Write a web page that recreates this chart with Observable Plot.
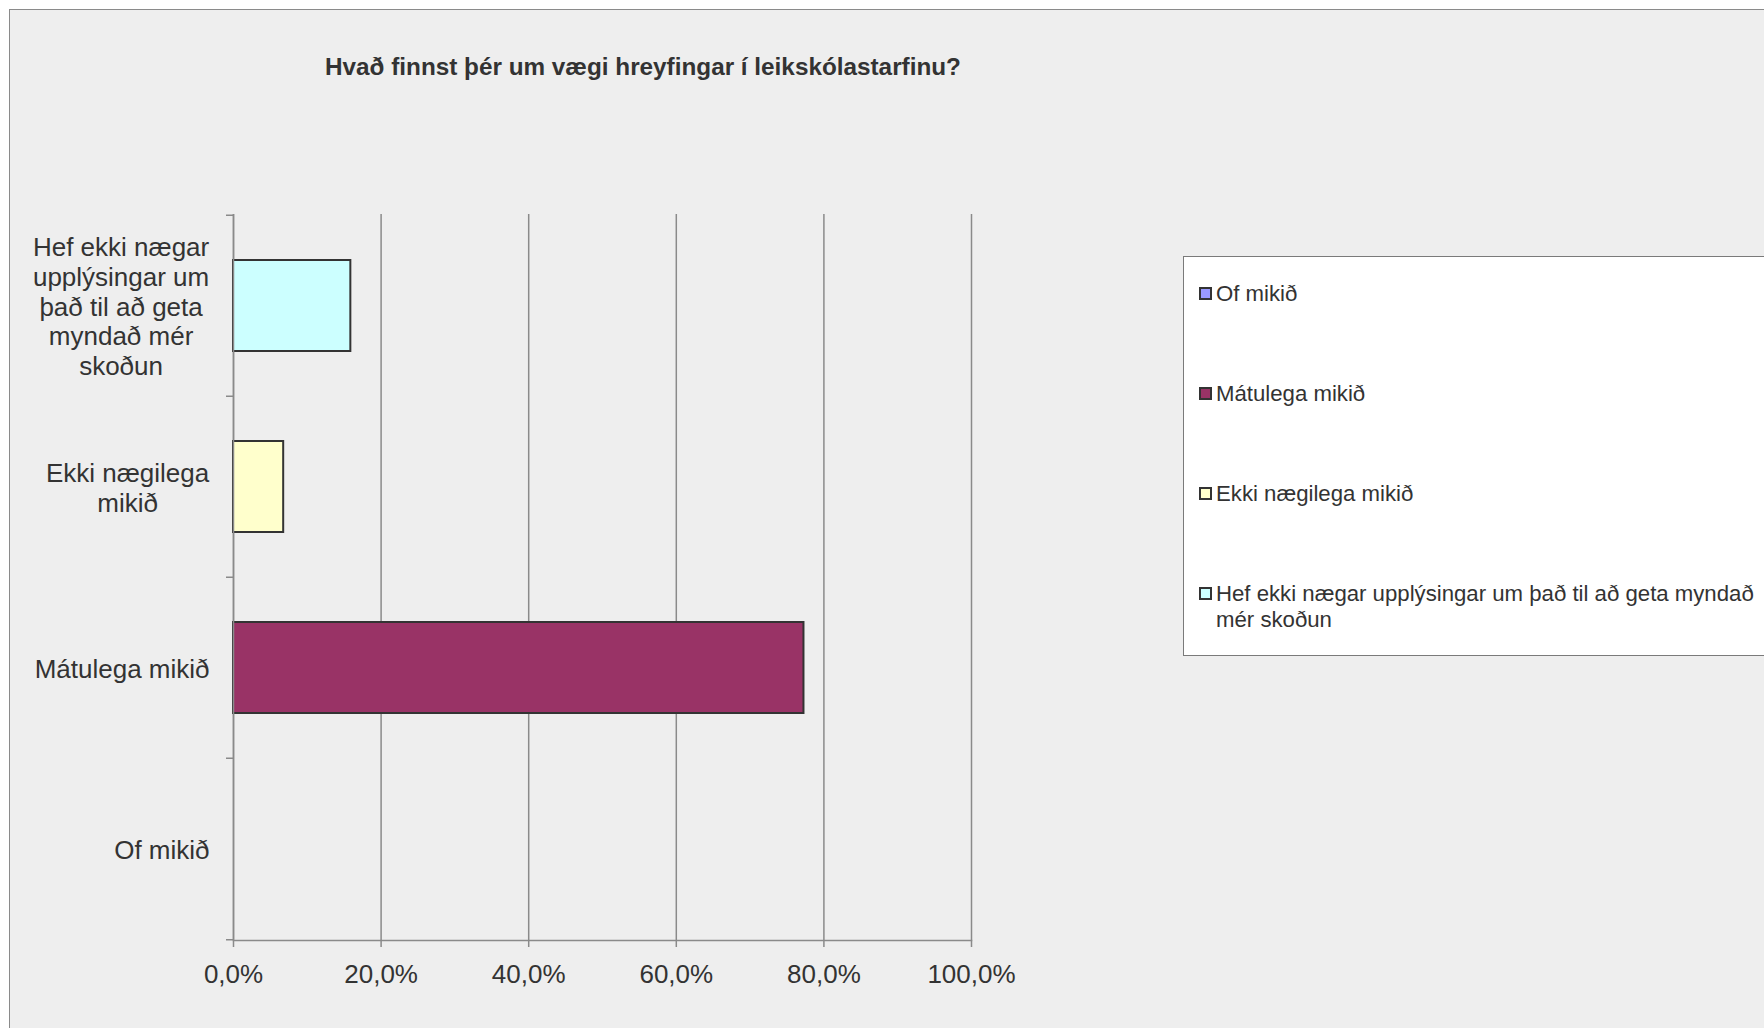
<!DOCTYPE html>
<html>
<head>
<meta charset="utf-8">
<script src="https://cdn.jsdelivr.net/npm/d3@7"></script>
<script src="https://cdn.jsdelivr.net/npm/@observablehq/plot@0.6"></script>
<style>
  html, body { margin: 0; padding: 0; background: #ffffff; overflow: hidden; }
  #page { position: relative; width: 1764px; height: 1028px; font-family: "Liberation Sans", Arial, sans-serif; }
  #panel { position: absolute; left: 9px; top: 9px; width: 1800px; height: 1100px; background: #eeeeee;
           border-left: 1.5px solid #8a8a8a; border-top: 1.5px solid #8a8a8a; }
  #title { position: absolute; left: 0; top: 55px; width: 1286px; text-align: center; font-size: 24.3px; line-height: 24px;
           font-weight: bold; color: #333333; }
  #chart { position: absolute; left: 0; top: 0; }
  #legend { position: absolute; left: 1183px; top: 256px; width: 700px; height: 398px; background: #ffffff;
            border: 1.5px solid #7a7a7a; }
  .item { position: absolute; left: 15px; font-size: 22.2px; line-height: 26px; color: #333333; }
  .sw { position: absolute; left: 0; top: 6px; width: 9px; height: 9px; border: 2px solid #333333; }
  .lab { position: absolute; left: 17px; top: 0; width: 565px; white-space: normal; }
</style>
</head>
<body>
<div id="page">
  <div id="panel"></div>
  <div id="title"></div>
  <div id="chart"></div>
  <div id="legend"></div>
</div>
<script>
// ---- data ----
const titleText = "Hvað finnst þér um vægi hreyfingar í leikskólastarfinu?";
const categories = ["Of mikið", "Mátulega mikið", "Ekki nægilega mikið", "Hef ekki nægar upplýsingar um það til að geta myndað mér skoðun"];
const yLabels = ["Of mikið", "Mátulega mikið", "Ekki nægilega\nmikið", "Hef ekki nægar\nupplýsingar um\nþað til að geta\nmyndað mér\nskoðun"];
const values = [0, 77.3, 6.8, 15.9];
const colors = ["#9999ff", "#993366", "#ffffcc", "#ccffff"];
const xTicks = [0, 20, 40, 60, 80, 100];
const xTickLabels = ["0,0%", "20,0%", "40,0%", "60,0%", "80,0%", "100,0%"];

const data = categories.map((c, i) => ({category: c, value: values[i]}));

document.getElementById("title").textContent = titleText;

// ---- chart ----
const W = 1100, H = 1028, mT = 214, mB = 88, mL = 233, mR = 129;
const step = (H - mT - mB) / categories.length;
const gray = "#8a8a8a";
const yDomain = categories.slice().reverse();

const chart = Plot.plot({
  width: W, height: H,
  marginTop: mT, marginBottom: mB, marginLeft: mL, marginRight: mR,
  style: {background: "transparent", fontFamily: "Liberation Sans, Arial, sans-serif", color: "#333333"},
  x: {domain: [0, 100], label: null},
  y: {domain: yDomain, paddingInner: 0.5, paddingOuter: 0.25, label: null},
  color: {domain: categories, range: colors},
  marks: [
    Plot.gridX(xTicks, {stroke: gray, strokeOpacity: 1, strokeWidth: 1.5}),
    Plot.barX(data.filter(d => d.value > 0), {x: "value", y: "category", fill: "category", stroke: "#333333", strokeWidth: 2}),
    Plot.ruleX([0], {stroke: gray, strokeWidth: 1.5}),
    Plot.frame({anchor: "bottom", stroke: gray, strokeWidth: 1.5}),
    Plot.axisX(xTicks, {tickSize: 7, tickPadding: 17, fontSize: 26, stroke: gray, strokeWidth: 1.5, fill: "#333333",
      tickFormat: d => xTickLabels[xTicks.indexOf(d)]}),
    Plot.axisY({tickSize: 0, tickPadding: 24, textAnchor: "end", fontSize: 26, lineHeight: 1.15, fill: "#333333",
      tickFormat: d => yLabels[categories.indexOf(d)]}),
    Plot.axisY({tickSize: 7, stroke: gray, strokeWidth: 1.5, dy: -step / 2, tickFormat: () => ""}),
    Plot.axisY([yDomain[yDomain.length - 1]], {tickSize: 7, stroke: gray, strokeWidth: 1.5, dy: step / 2, tickFormat: () => ""})
  ]
});
document.getElementById("chart").appendChild(chart);

// Right-align each label block, centre its lines within the block
const labelSet = new Set(yLabels.map(s => s.replace(/\n/g, "")));
d3.select(chart).selectAll("text").each(function() {
  if (!labelSet.has(this.textContent)) return;
  const w = this.getBBox().width;
  this.setAttribute("text-anchor", "middle");
  this.style.textAnchor = "middle";
  d3.select(this).selectAll("tspan").attr("text-anchor", "middle").style("text-anchor", "middle");
  const t = this.getAttribute("transform") || "";
  this.setAttribute("transform", t + ` translate(${-w / 2},0)`);
});

// ---- legend ----
const legend = document.getElementById("legend");
categories.forEach((c, i) => {
  const item = document.createElement("div");
  item.className = "item";
  item.style.top = (24 + i * 100) + "px";
  const sw = document.createElement("div");
  sw.className = "sw";
  sw.style.background = colors[i];
  const lab = document.createElement("div");
  lab.className = "lab";
  lab.textContent = c;
  item.appendChild(sw);
  item.appendChild(lab);
  legend.appendChild(item);
});
</script>
</body>
</html>
